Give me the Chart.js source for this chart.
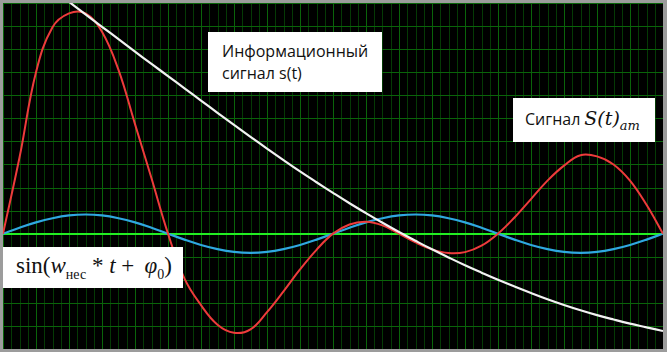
<!DOCTYPE html>
<html>
<head>
<meta charset="utf-8">
<script src="https://cdn.jsdelivr.net/npm/chart.js@4/dist/chart.umd.min.js"></script>
<style>
  body { margin: 0; background: #9c9c9c; }
  #wrap { position: relative; width: 667px; height: 352px; overflow: hidden; }
  #plot { position: absolute; left: 3px; top: 3px; background: #000; }
  .box { position: absolute; background: #fff; color: #111; box-sizing: border-box; }
  .sans { font-family: "Open Sans", sans-serif; font-size: 16px; }
  .math { font-family: "Liberation Serif", "DejaVu Serif", serif; }
  sub { line-height: 0; }
</style>
</head>
<body>
<div id="wrap">
  <canvas id="plot" width="660" height="346"></canvas>
  <div class="box sans" style="left:208px; top:32px; width:174px; height:60px; padding:8px 0 0 14px; line-height:22px;">
    Информационный<br>сигнал s(t)
  </div>
  <div class="box" style="left:513px; top:98px; width:142px; height:44px; padding:9px 0 0 12px; white-space:nowrap;">
    <span class="sans">Сигнал</span>
    <span style="font-family:'DejaVu Serif', serif; font-size:19px; font-style:italic;">S(t)<sub style="font-size:13px;">am</sub></span>
  </div>
  <div class="box math" style="left:3px; top:247px; width:180px; height:41px; padding:6px 0 0 13px; font-size:23px; white-space:nowrap;">
    sin(<i>w</i><sub style="font-size:14px;">нес</sub> * <i>t</i> + &thinsp;<i>φ</i><sub style="font-size:14px;">0</sub>)
  </div>
</div>
<script>
// time axis, in big grid cells
const tValues = [0, 0.5, 1, 1.5, 2, 2.5, 3, 3.5, 4, 4.5, 5, 5.5, 6, 6.5, 7, 7.5, 8, 8.5, 9, 9.5,
  10, 10.5, 11, 11.5, 12, 12.5, 13, 13.5, 14, 14.5, 15, 15.5, 16, 16.5, 17, 17.5, 18, 18.5, 19, 19.5, 20];

// information signal s(t) (white)
const infoSignal = [12.21, 11.67, 11.13, 10.59, 10.05, 9.51, 8.97, 8.43, 7.89, 7.36, 6.83, 6.3, 5.77, 5.24, 4.72, 4.2, 3.69, 3.19, 2.7, 2.23,
  1.77, 1.32, 0.89, 0.47, 0.07, -0.31, -0.68, -1.03, -1.37, -1.69, -2.0, -2.29, -2.57, -2.84, -3.09, -3.32, -3.53, -3.72, -3.9, -4.06, -4.22];

// carrier sin(w*t + phi0) (blue)
const carrier = [0, 0.26, 0.49, 0.67, 0.79, 0.83, 0.79, 0.67, 0.49, 0.26, 0, -0.26, -0.49, -0.67, -0.79, -0.83, -0.79, -0.67, -0.49, -0.26,
  0, 0.26, 0.49, 0.67, 0.79, 0.83, 0.79, 0.67, 0.49, 0.26, 0, -0.26, -0.49, -0.67, -0.79, -0.83, -0.79, -0.67, -0.49, -0.26, 0];

// AM signal S(t)am (red)
const amSignal = [0, 3.3, 7.0, 8.95, 9.55, 9.55, 8.75, 7.1, 4.75, 2.4, 0, -1.95, -3.1, -3.95, -4.3, -4.15, -3.4, -2.5, -1.55, -0.7,
  0, 0.4, 0.52, 0.36, 0, -0.38, -0.68, -0.84, -0.8, -0.52, 0, 0.7, 1.5, 2.3, 2.95, 3.4, 3.35, 3.0, 2.3, 1.25, 0];

const xMin = 0, xMax = 20, yMin = -5, yMax = 10;

const pts = arr => arr.map((v, i) => ({ x: tValues[i], y: v }));

// oscilloscope-like grid
const scopeGrid = {
  id: 'scopeGrid',
  beforeDatasetsDraw(chart) {
    const { ctx, chartArea: a, scales: { x, y } } = chart;
    ctx.save();
    ctx.lineWidth = 1;
    for (let v = xMin; v <= xMax + 1e-9; v += 0.25) {
      const px = Math.round(x.getPixelForValue(v)) + 0.5;
      ctx.strokeStyle = Math.abs(v - Math.round(v)) < 1e-9 ? '#0a640a' : '#053a05';
      ctx.beginPath(); ctx.moveTo(px, a.top); ctx.lineTo(px, a.bottom); ctx.stroke();
    }
    ctx.strokeStyle = '#0a640a';
    for (let v = yMin; v <= yMax; v++) {
      const py = Math.round(y.getPixelForValue(v)) + 0.5;
      ctx.beginPath(); ctx.moveTo(a.left, py); ctx.lineTo(a.right, py); ctx.stroke();
    }
    const y0 = Math.round(y.getPixelForValue(0));
    ctx.strokeStyle = '#22ee22';
    ctx.lineWidth = 2;
    ctx.beginPath(); ctx.moveTo(a.left, y0); ctx.lineTo(a.right, y0); ctx.stroke();
    ctx.restore();
  }
};

new Chart(document.getElementById('plot'), {
  type: 'line',
  data: {
    datasets: [
      { label: 'info', data: pts(infoSignal), borderColor: '#f2f2f2', borderWidth: 2.2 },
      { label: 'am', data: pts(amSignal), borderColor: '#ee3b3b', borderWidth: 2 },
      { label: 'carrier', data: pts(carrier), borderColor: '#2fa8e0', borderWidth: 2.2 }
    ]
  },
  options: {
    responsive: false,
    animation: false,
    devicePixelRatio: 1,
    layout: { padding: 0 },
    elements: { point: { radius: 0 }, line: { tension: 0.4 } },
    plugins: { legend: { display: false }, tooltip: { enabled: false } },
    scales: {
      x: { type: 'linear', min: xMin, max: xMax, display: false },
      y: { type: 'linear', min: yMin, max: yMax, display: false }
    }
  },
  plugins: [scopeGrid]
});
</script>
</body>
</html>
